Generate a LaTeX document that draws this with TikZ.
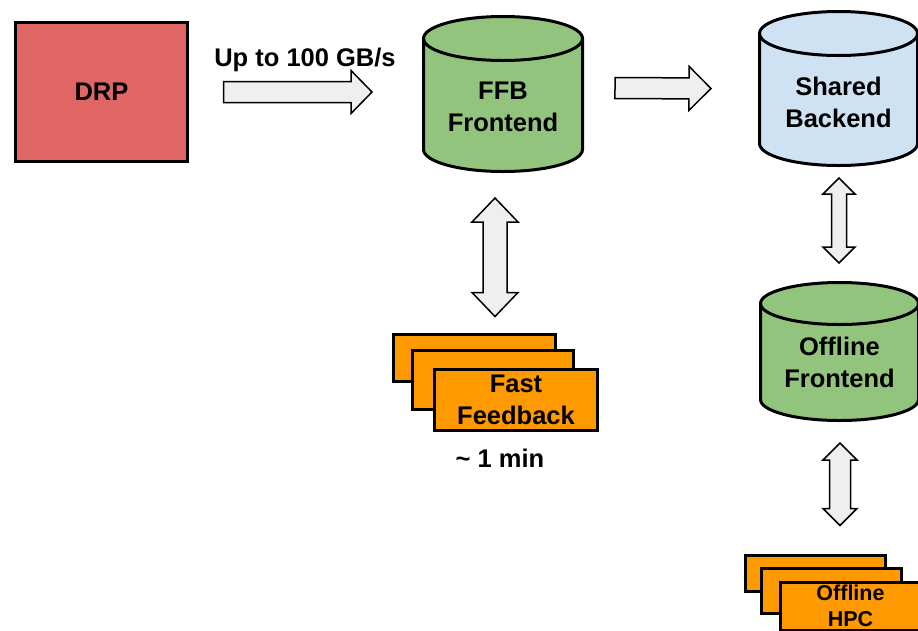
\documentclass[tikz,border=0pt]{standalone}
\usepackage{fontspec}
\setmainfont{Liberation Sans}
\usetikzlibrary{calc}
\definecolor{drpred}{HTML}{E06666}
\definecolor{diskgreen}{HTML}{93C47D}
\definecolor{diskblue}{HTML}{CFE2F3}
\definecolor{joborange}{HTML}{FF9900}
\definecolor{pipegray}{HTML}{EFEFEF}
\def\disknode{\node[disk]}
\def\jobnode{\node[job]}
% cylinder drawn inside the frame of node #1; #2 end radius, #3 fill
\newcommand\drum[3]{%
  \draw[fill=#3,line width=3pt] let \p1=(#1.north west), \p2=(#1.south east), \n1={(\x2-\x1)/2} in
    (\x1,\y1-#2) -- (\x1,\y2+#2) arc[start angle=180,end angle=360,x radius=\n1,y radius=#2]
    -- (\x2,\y1-#2) arc[start angle=0,end angle=180,x radius=\n1,y radius=#2] -- cycle;
  \draw[line width=3pt] let \p1=(#1.north west), \p2=(#1.south east), \n1={(\x2-\x1)/2} in
    (\x1,\y1-#2) arc[start angle=180,end angle=360,x radius=\n1,y radius=#2];}
% block arrow from #1 to #2; #3 shaft half width, #4 head half width, #5 head length
\newcommand\pipe[5]{%
  \path ($(#2)!#5!(#1)$) coordinate (pipehead);
  \draw[pipe] ($(#1)!#3!90:(#2)$) -- ($(pipehead)!#3!90:(#2)$) -- ($(pipehead)!#4!90:(#2)$) -- (#2)
    -- ($(pipehead)!#4!-90:(#2)$) -- ($(pipehead)!#3!-90:(#2)$) -- ($(#1)!#3!-90:(#2)$) -- cycle;}
% same with a head at both ends
\newcommand\duplex[5]{%
  \path ($(#1)!#5!(#2)$) coordinate (duplexa) ($(#2)!#5!(#1)$) coordinate (duplexb);
  \draw[pipe] (#1) -- ($(duplexa)!#4!90:(#2)$) -- ($(duplexa)!#3!90:(#2)$) -- ($(duplexb)!#3!90:(#2)$)
    -- ($(duplexb)!#4!90:(#2)$) -- (#2) -- ($(duplexb)!#4!-90:(#2)$) -- ($(duplexb)!#3!-90:(#2)$)
    -- ($(duplexa)!#3!-90:(#2)$) -- ($(duplexa)!#4!-90:(#2)$) -- cycle;}
\begin{document}
\begin{tikzpicture}[x=1pt,y=-1pt,
  every node/.style={font=\bfseries\fontsize{25.5}{32}\selectfont,align=center},
  disk/.style={rectangle,inner sep=0pt,outer sep=0pt},
  job/.style={rectangle,draw,line width=3pt,fill=joborange,inner sep=0pt},
  pipe/.style={draw,fill=pipegray,line width=1.5pt}]
\useasboundingbox (0,0) rectangle (918,630);
\node[rectangle,draw,line width=3pt,fill=drpred,minimum width=172pt,minimum height=139pt] (drp) at (101.5,92) {DRP};
\disknode[minimum width=159pt,minimum height=155pt] (ffb) at (503,94) {};
\drum{ffb}{22pt}{diskgreen}
\node (ffbtext) at ($(ffb)+(0,12.5)$) {FFB\\Frontend};
\disknode[minimum width=158pt,minimum height=154pt] (shared) at (838.5,88.5) {};
\drum{shared}{22pt}{diskblue}
\node (sharedtext) at ($(shared)+(0,13.5)$) {Shared\\Backend};
\disknode[minimum width=158pt,minimum height=138pt] (offline) at (839.5,351.5) {};
\drum{offline}{21pt}{diskgreen}
\node (offlinetext) at ($(offline)+(0,11)$) {Offline\\Frontend};
\jobnode[minimum width=162pt,minimum height=47pt] (fasta) at (474.5,358) {};
\jobnode[minimum width=161pt,minimum height=59pt] (fastb) at (493,380) {};
\jobnode[minimum width=163pt,minimum height=61pt] (fastc) at (516,400) {Fast\\Feedback};
\node (latency) at (500,458) {\textasciitilde{} 1 min};
\jobnode[minimum width=140pt,minimum height=36pt] (hpca) at (815.5,573.5) {};
\jobnode[minimum width=140pt,minimum height=45pt] (hpcb) at (831.5,591) {};
\jobnode[minimum width=140pt,minimum height=48pt,font=\bfseries\fontsize{21.5}{26.5}\selectfont] (hpcc) at (850.5,606) {Offline\\HPC};
\node (rate) at (305,60) {Up to 100 GB/s};
\coordinate (ingests) at ($(drp.east)+(34.5,0)$);
\coordinate (ingeste) at ($(ffb.west)+(-51.5,-2)$);
\coordinate (handoffs) at ($(ffb.east)+(32.5,-6)$);
\coordinate (handoffe) at ($(shared.west)+(-48.5,0)$);
\coordinate (fasts) at ($(ffb.south)+(-8,26.5)$);
\coordinate (faste) at ($(fasta.north)+(20.5,-16.5)$);
\coordinate (stages) at ($(shared.south)+(0.5,12.5)$);
\coordinate (stagee) at ($(offline.north)+(-0.5,-19.5)$);
\coordinate (hpcs) at ($(offline.south)+(0.5,22.5)$);
\coordinate (hpce) at ($(hpca.north)+(24.5,-28.5)$);
\pipe{ingests}{ingeste}{10.5pt}{21.5pt}{21pt}
\pipe{handoffs}{handoffe}{10.5pt}{22pt}{22pt}
\duplex{fasts}{faste}{12pt}{23pt}{24pt}
\duplex{stages}{stagee}{7.5pt}{16pt}{16pt}
\duplex{hpcs}{hpce}{10.5pt}{17pt}{17pt}
\end{tikzpicture}
\end{document}
